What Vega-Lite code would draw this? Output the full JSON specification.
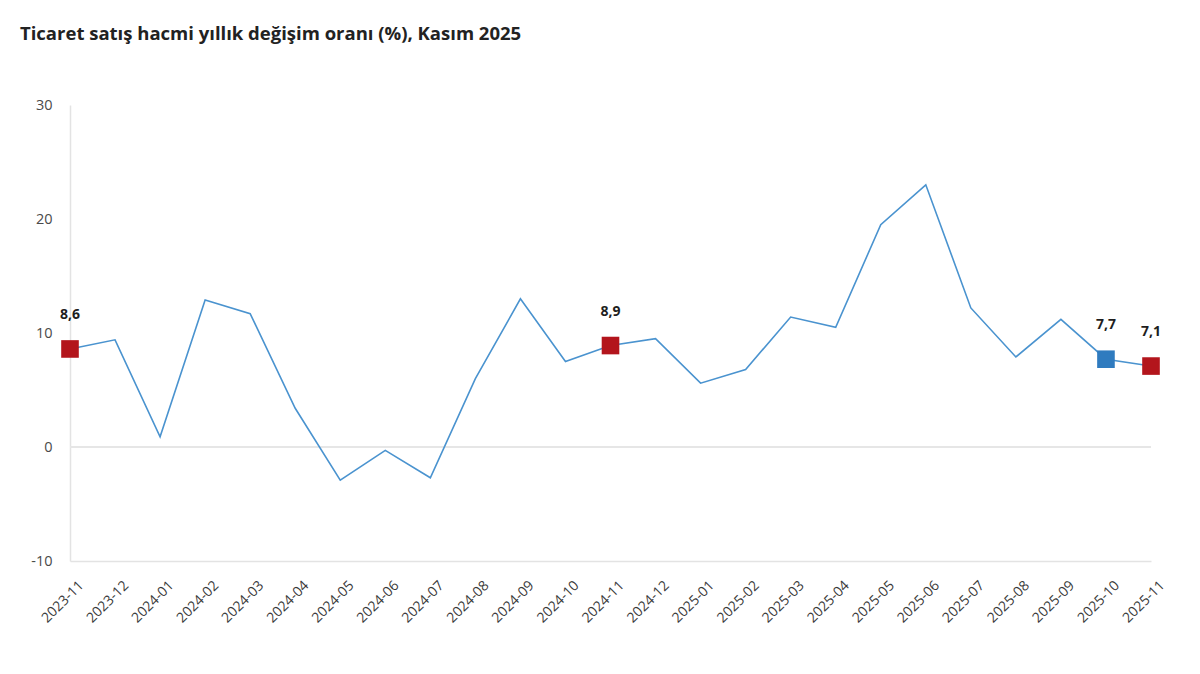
{
  "$schema": "https://vega.github.io/schema/vega-lite/v6.json",
  "width": 1081,
  "height": 456,
  "autosize": {"type": "none"},
  "padding": {"left": 70, "top": 105, "right": 49, "bottom": 113},
  "background": "white",
  "config": {"view": {"stroke": null}, "font": "Open Sans"},
  "title": {
    "text": "Ticaret satış hacmi yıllık değişim oranı (%), Kasım 2025",
    "anchor": "start",
    "frame": "group",
    "dx": -50,
    "offset": 54,
    "fontSize": 18.5,
    "fontWeight": "bold",
    "color": "#222222",
    "font": "Open Sans"
  },
  "data": {
    "values": [
      {"month": "2023-11", "value": 8.6, "mark": "red", "label": "8,6"},
      {"month": "2023-12", "value": 9.4},
      {"month": "2024-01", "value": 0.9},
      {"month": "2024-02", "value": 12.9},
      {"month": "2024-03", "value": 11.7},
      {"month": "2024-04", "value": 3.4},
      {"month": "2024-05", "value": -2.9},
      {"month": "2024-06", "value": -0.3},
      {"month": "2024-07", "value": -2.7},
      {"month": "2024-08", "value": 6.0},
      {"month": "2024-09", "value": 13.0},
      {"month": "2024-10", "value": 7.5},
      {"month": "2024-11", "value": 8.9, "mark": "red", "label": "8,9"},
      {"month": "2024-12", "value": 9.5},
      {"month": "2025-01", "value": 5.6},
      {"month": "2025-02", "value": 6.8},
      {"month": "2025-03", "value": 11.4},
      {"month": "2025-04", "value": 10.5},
      {"month": "2025-05", "value": 19.5},
      {"month": "2025-06", "value": 23.0},
      {"month": "2025-07", "value": 12.2},
      {"month": "2025-08", "value": 7.9},
      {"month": "2025-09", "value": 11.2},
      {"month": "2025-10", "value": 7.7, "mark": "blue", "label": "7,7"},
      {"month": "2025-11", "value": 7.1, "mark": "red", "label": "7,1"}
    ]
  },
  "encoding": {
    "x": {
      "field": "month",
      "type": "ordinal",
      "scale": {"type": "point", "padding": 0},
      "axis": {
        "title": null,
        "labelAngle": -45,
        "labelAlign": "right",
        "labelBaseline": "middle",
        "labelFontSize": 14,
        "labelColor": "#3a3a3a",
        "labelPadding": 22,
        "labelOffset": 11,
        "ticks": false,
        "domainColor": "#e3e3e3",
        "domainWidth": 1.5,
        "grid": false,
        "labelFont": "Open Sans"
      }
    },
    "y": {
      "field": "value",
      "type": "quantitative",
      "scale": {"domain": [-10, 30], "nice": false, "zero": false},
      "axis": {
        "title": null,
        "values": [-10, 0, 10, 20, 30],
        "labelExpr": "datum.value < 0 ? '-' + abs(datum.value) : datum.label",
        "grid": false,
        "ticks": false,
        "domainColor": "#e3e3e3",
        "domainWidth": 1.5,
        "labelFontSize": 14.5,
        "labelColor": "#4a4a4a",
        "labelPadding": 18,
        "labelFont": "Open Sans"
      }
    }
  },
  "layer": [
    {
      "mark": {"type": "rule", "color": "#e6e6e6", "strokeWidth": 1.5},
      "encoding": {"y": {"datum": 0}, "x": null}
    },
    {
      "mark": {"type": "line", "color": "#4a93cf", "strokeWidth": 1.6},
      "encoding": {}
    },
    {
      "transform": [{"filter": "datum.mark != null"}],
      "mark": {"type": "point", "shape": "square", "filled": true, "size": 310, "opacity": 1},
      "encoding": {
        "color": {
          "field": "mark",
          "type": "nominal",
          "scale": {"domain": ["red", "blue"], "range": ["#b3151c", "#2f7bbf"]},
          "legend": null
        }
      }
    },
    {
      "transform": [{"filter": "datum.mark != null"}],
      "mark": {"type": "text", "dy": -34, "fontSize": 14, "fontWeight": "bold", "color": "#1e1e1e", "font": "Open Sans"},
      "encoding": {"text": {"field": "label"}}
    }
  ]
}
